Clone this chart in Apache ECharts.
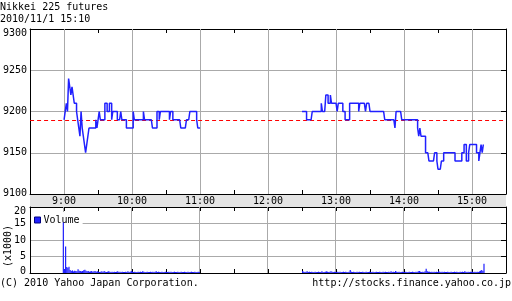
<!DOCTYPE html>
<html><head><meta charset="utf-8">
<script src="https://cdn.jsdelivr.net/npm/echarts@6/dist/echarts.min.js"></script>
<style>html,body{margin:0;padding:0;background:#fff}#c{width:512px;height:301px}</style>
</head><body><div id="c"></div>
<script>
const titleText = 'Nikkei 225 futures';
const dateText = '2010/11/1 15:10';
const copyrightText = '(C) 2010 Yahoo Japan Corporation.';
const urlText = 'http://stocks.finance.yahoo.co.jp';
const volumeUnit = '(x1000)';
const prevClose = 9190;
const hourGrid = [540, 600, 660, 720, 780, 840, 900];

const morningStart = 540;   // 9:00 in minutes
const morningPrice = [
  9190,9200,9210,9200,9240,9230,9220,9230,9220,9210,
  9210,9200,9190,9180,9170,9200,9180,9170,9160,9150,
  9160,9170,9180,9180,9180,9180,9180,9180,9190,9180,
  9190,9200,9190,9190,9190,9190,9210,9210,9200,9200,
  9210,9210,9190,9200,9200,9200,9200,9190,9190,9190,
  9200,9190,9190,9190,9190,9180,9180,9180,9180,9180,
  9180,9200,9190,9190,9190,9190,9190,9190,9190,9190,
  9200,9190,9190,9190,9190,9190,9190,9190,9180,9180,
  9180,9180,9200,9200,9190,9200,9200,9200,9200,9200,
  9200,9200,9200,9190,9200,9200,9190,9190,9190,9190,
  9190,9190,9190,9180,9180,9180,9180,9180,9190,9190,
  9190,9200,9200,9200,9200,9200,9200,9190,9180,9180,9180
];
const afternoonStart = 750; // 12:30
const afternoonPrice = [
  9200,9200,9200,9200,9190,9190,9190,9190,9190,9200,
  9200,9200,9200,9200,9200,9200,9200,9210,9200,9200,
  9200,9220,9220,9210,9210,9220,9210,9210,9210,9210,
  9210,9200,9210,9210,9210,9210,9200,9200,9190,9190,
  9190,9190,9210,9210,9210,9210,9210,9210,9210,9210,
  9200,9210,9210,9210,9210,9210,9200,9210,9210,9210,
  9200,9200,9200,9200,9200,9200,9200,9200,9200,9200,
  9200,9200,9200,9190,9190,9190,9190,9190,9190,9190,
  9190,9190,9180,9200,9200,9200,9200,9200,9190,9190,
  9190,9190,9190,9190,9190,9190,9190,9190,9190,9190,
  9190,9190,9180,9170,9180,9170,9170,9170,9170,9150,
  9150,9150,9140,9140,9140,9140,9140,9150,9150,9140,
  9130,9130,9130,9140,9140,9150,9150,9150,9150,9150,
  9150,9150,9150,9150,9150,9140,9140,9140,9140,9140,
  9140,9150,9150,9160,9160,9140,9140,9150,9160,9160,
  9160,9160,9160,9160,9150,9150,9140,9150,9160,9150,9160
];
const morningVolume = [
  15.3,1.2,8.0,1.8,1.6,1.9,0.9,0.6,0.8,0.5,
  0.7,0.6,0.5,1.1,0.7,0.6,0.5,0.6,0.8,1.0,
  0.7,0.5,0.6,0.4,0.5,0.6,0.4,0.5,0.6,0.4,
  0.5,0.4,0.3,0.4,0.5,0.3,0.6,0.4,0.3,0.4,
  0.5,0.4,0.3,0.4,0.3,0.4,0.3,0.4,0.5,0.3,
  0.4,0.3,0.4,0.3,0.3,0.4,0.3,0.5,0.3,0.4,
  0.6,0.4,0.3,0.4,0.3,0.3,0.4,0.3,0.4,0.3,
  0.5,0.4,0.3,0.3,0.4,0.3,0.3,0.4,0.3,0.4,
  0.3,0.4,0.5,0.3,0.4,0.3,0.3,0.4,0.3,0.3,
  0.4,0.3,0.3,0.4,0.3,0.4,0.3,0.3,0.4,0.3,
  0.3,0.4,0.3,0.3,0.4,0.3,0.3,0.4,0.3,0.3,
  0.4,0.3,0.3,0.4,0.3,0.3,0.4,0.3,0.3,0.4,0.3
];
const afternoonVolume = [
  0.6,0.4,0.3,0.4,0.5,0.3,0.4,0.3,0.4,0.3,
  0.3,0.4,0.3,0.3,0.4,0.3,0.3,0.5,0.3,0.3,
  0.4,0.5,0.4,0.3,0.4,0.5,0.4,0.3,0.4,0.3,
  0.3,0.4,0.3,0.4,0.3,0.3,0.4,0.3,0.4,0.3,
  0.3,0.4,0.9,0.4,0.3,0.4,0.3,0.3,0.4,0.3,
  0.4,0.3,0.3,0.4,0.3,0.3,0.4,0.3,0.3,0.4,
  0.3,0.3,0.4,0.3,0.3,0.4,0.3,0.3,0.4,0.3,
  0.3,0.4,0.3,0.4,0.3,0.3,0.4,0.3,0.5,0.3,
  0.4,0.3,0.6,0.4,0.3,0.4,0.3,0.3,0.4,0.3,
  0.3,0.4,0.3,0.3,0.4,0.3,0.3,0.4,0.3,0.3,
  0.4,0.3,0.5,0.6,0.4,0.3,0.4,0.3,0.5,1.3,
  0.5,0.4,0.4,0.3,0.4,0.3,0.4,0.3,0.4,0.3,
  0.5,0.4,0.3,0.4,0.3,0.4,0.3,0.3,0.4,0.3,
  0.3,0.4,0.3,0.3,0.4,0.3,0.4,0.3,0.3,0.4,
  0.3,0.4,0.3,0.5,0.4,0.3,0.4,0.3,0.4,0.3,
  0.4,0.3,0.4,0.3,0.4,0.3,0.5,0.7,0.9,0.6,2.8
];

const mono = 'DejaVu Sans Mono';
const BLUE = '#2020ff';
const GRIDC = '#aaaaaa';
const pairs = (start, arr) => arr.map((v, i) => [start + i, v]);
const hourFmt = v => (v % 60 === 0 ? (v / 60) + ':00' : '');
const lblBase = {color: '#000', fontFamily: mono, fontSize: 10};

function xAx(grid, pos, labels) {
  return {
    gridIndex: grid, type: 'value', position: pos, min: 510, max: 930, interval: 30,
    axisLine: {show: true, onZero: false, lineStyle: {color: '#000', width: 1}},
    axisTick: {show: true, inside: true, length: 4, lineStyle: {color: '#000'}},
    axisLabel: labels ? Object.assign({show: true, margin: 2, formatter: hourFmt}, lblBase) : {show: false},
    splitLine: {show: false}
  };
}
function yAx(grid, pos, min, max, interval, labelCfg) {
  return {
    gridIndex: grid, type: 'value', position: pos, min: min, max: max, interval: interval,
    axisLine: {show: true, lineStyle: {color: '#000', width: 1}},
    axisTick: pos === 'right' ? {show: true, inside: true, length: 5, lineStyle: {color: '#000'}} : {show: false},
    axisLabel: labelCfg ? labelCfg : {show: false},
    splitLine: pos === 'left' ? {show: true, lineStyle: {color: GRIDC, width: 1}} : {show: false}
  };
}

const gridLines = hourGrid.map(h => ({xAxis: h, lineStyle: {color: GRIDC, type: 'solid', width: 1}}));

const chart = echarts.init(document.getElementById('c'), null, {renderer: 'canvas'});
chart.setOption({
  animation: false,
  backgroundColor: '#fff',
  textStyle: {fontFamily: mono},
  grid: [
    {left: 30, top: 29, width: 476, height: 165},
    {left: 30, top: 207, width: 476, height: 66}
  ],
  xAxis: [xAx(0, 'bottom', true), xAx(0, 'top', false), xAx(1, 'bottom', false), xAx(1, 'top', false)],
  yAxis: [
    yAx(0, 'left', 9100, 9300, 50, Object.assign({
      margin: 3,
      formatter: v => v === 9300 ? '{t|' + v + '}' : (v === 9100 ? '{b|' + v + '}' : String(v)),
      rich: {t: Object.assign({padding: [8, 0, 0, 0]}, lblBase), b: Object.assign({padding: [0, 0, 2, 0]}, lblBase)}
    }, lblBase)),
    yAx(0, 'right', 9100, 9300, 50, null),
    yAx(1, 'left', 0, 20, 5, Object.assign({
      margin: 4,
      formatter: v => v === 20 ? '{t|' + v + '}' : (v === 0 ? '{b|' + v + '}' : String(v)),
      rich: {t: Object.assign({padding: [9, 0, 0, 0]}, lblBase), b: Object.assign({padding: [0, 0, 4, 0]}, lblBase)}
    }, lblBase)),
    yAx(1, 'right', 0, 20, 5, null)
  ],
  legend: {
    data: [{name: 'Volume', icon: 'rect'}], z: 4,
    left: 31, top: 212, padding: [3, 3, 2, 3], itemWidth: 6, itemHeight: 6,
    backgroundColor: '#fff', selectedMode: false,
    itemStyle: {borderColor: '#000080', borderWidth: 1},
    textStyle: {fontFamily: mono, fontSize: 10, color: '#000', padding: [0, 0, 0, -2]}
  },
  series: [
    {
      name: 'Price AM', type: 'line', xAxisIndex: 0, yAxisIndex: 0, step: 'end',
      data: pairs(morningStart, morningPrice), symbol: 'none', showSymbol: false, z: 3,
      lineStyle: {color: BLUE, width: 1.5}, itemStyle: {color: BLUE},
      emphasis: {disabled: true}, silent: true,
      markLine: {
        silent: true, z: 1, symbol: ['none', 'none'], label: {show: false}, animation: false,
        data: gridLines.concat([{yAxis: prevClose, lineStyle: {color: '#ff0000', type: [4, 3], width: 1}}])
      }
    },
    {
      name: 'Price PM', type: 'line', xAxisIndex: 0, yAxisIndex: 0, step: 'end',
      data: pairs(afternoonStart, afternoonPrice), symbol: 'none', showSymbol: false, z: 3,
      lineStyle: {color: BLUE, width: 1.5}, itemStyle: {color: BLUE},
      emphasis: {disabled: true}, silent: true
    },
    {
      name: 'Volume', type: 'bar', xAxisIndex: 2, yAxisIndex: 2, barWidth: 1.2,
      data: pairs(morningStart, morningVolume), itemStyle: {color: BLUE}, z: 6, silent: true,
      markLine: {
        silent: true, z: 1, symbol: ['none', 'none'], label: {show: false}, animation: false,
        data: gridLines
      }
    },
    {
      name: 'Volume', type: 'bar', xAxisIndex: 2, yAxisIndex: 2, barWidth: 1.2,
      data: pairs(afternoonStart, afternoonVolume), itemStyle: {color: BLUE}, z: 6, silent: true
    }
  ],
  graphic: [
    {type: 'rect', z: -1, silent: true, shape: {x: 30, y: 194, width: 476, height: 13}, style: {fill: '#e4e4e4'}},
    {type: 'text', x: 0, y: 7, silent: true, style: {text: titleText, fill: '#000', font: '10px "DejaVu Sans Mono"', align: 'left', verticalAlign: 'middle'}},
    {type: 'text', x: 0, y: 19, silent: true, style: {text: dateText, fill: '#000', font: '10px "DejaVu Sans Mono"', align: 'left', verticalAlign: 'middle'}},
    {type: 'text', x: 8, y: 246, rotation: Math.PI / 2, silent: true, style: {text: volumeUnit, fill: '#000', font: '10px "DejaVu Sans Mono"', align: 'center', verticalAlign: 'middle'}},
    {type: 'text', x: 0, y: 283, silent: true, style: {text: copyrightText, fill: '#000', font: '10px "DejaVu Sans Mono"', align: 'left', verticalAlign: 'middle'}},
    {type: 'text', x: 511, y: 283, silent: true, style: {text: urlText, fill: '#000', font: '10px "DejaVu Sans Mono"', align: 'right', verticalAlign: 'middle'}}
  ]
});
</script>
</body></html>
